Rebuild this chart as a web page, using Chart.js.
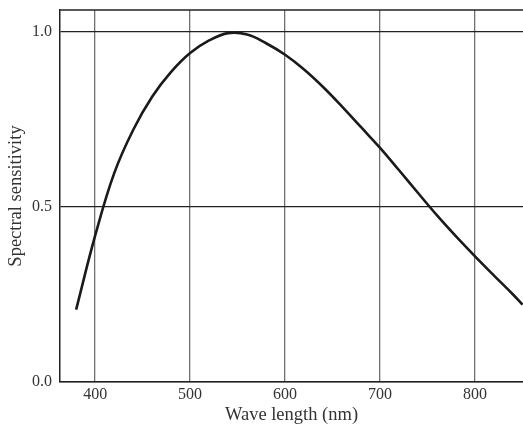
<!DOCTYPE html>
<html>
<head>
<meta charset="utf-8">
<script src="https://cdn.jsdelivr.net/npm/chart.js@4/dist/chart.umd.min.js"></script>
<style>
  html, body { margin: 0; padding: 0; background: #fff; }
  #wrap { width: 523px; height: 426px; }
</style>
</head>
<body>
<div id="wrap"><canvas id="chart"></canvas></div>
<script>
// Spectral sensitivity curve
const wavelengths = [380, 400, 420, 440, 460, 480, 500, 520, 540, 560, 580, 600,
                     620, 640, 660, 680, 700, 720, 740, 760, 780, 800, 820, 840, 850];
const sensitivity = [0.207, 0.418, 0.596, 0.72, 0.815, 0.886, 0.94, 0.976, 0.997, 0.993, 0.968, 0.935,
                     0.893, 0.843, 0.787, 0.728, 0.669, 0.605, 0.54, 0.476, 0.416, 0.359, 0.304, 0.25, 0.221];
const xTicks = [400, 500, 600, 700, 800];
const yTicks = [0, 0.5, 1.0];

const serif = '"Liberation Serif", "DejaVu Serif", serif';

// draws the frame line along the top of the plot
const topFrame = {
  id: 'topFrame',
  afterDraw(chart) {
    const { ctx, chartArea } = chart;
    ctx.save();
    ctx.strokeStyle = '#222';
    ctx.lineWidth = 1.5;
    ctx.beginPath();
    ctx.moveTo(chartArea.left, chartArea.top);
    ctx.lineTo(chartArea.right, chartArea.top);
    ctx.stroke();
    ctx.restore();
  }
};

new Chart(document.getElementById('chart'), {
  type: 'line',
  data: {
    datasets: [{
      data: wavelengths.map((w, i) => ({ x: w, y: sensitivity[i] })),
      borderColor: '#1a1a1a',
      borderWidth: 2.6,
      pointRadius: 0,
      tension: 0.4,
      fill: false
    }]
  },
  options: {
    responsive: true,
    maintainAspectRatio: false,
    animation: false,
    layout: { padding: { top: 10, right: 0, left: 0, bottom: 0 } },
    plugins: { legend: { display: false }, tooltip: { enabled: false } },
    scales: {
      x: {
        type: 'linear',
        min: 363,
        max: 850.5,
        afterBuildTicks(scale) { scale.ticks = xTicks.map(v => ({ value: v })); },
        afterFit(scale) { scale.height = 44; scale.paddingLeft = 0; scale.paddingRight = 0; },
        grid: { color: '#707070', lineWidth: 1.3, drawTicks: false },
        border: { color: '#222', width: 1.5 },
        ticks: { color: '#333', font: { family: serif, size: 16 }, padding: 3 },
        title: {
          display: true,
          text: 'Wave length (nm)',
          color: '#333',
          font: { family: serif, size: 18.5 },
          padding: { top: 0, bottom: 0 }
        }
      },
      y: {
        min: 0,
        max: 1.063,
        afterBuildTicks(scale) { scale.ticks = yTicks.map(v => ({ value: v })); },
        afterFit(scale) { scale.width = 60; scale.paddingTop = 0; scale.paddingBottom = 0; },
        grid: { color: '#222', lineWidth: 1.2, drawTicks: false },
        border: { color: '#222', width: 1.5 },
        ticks: {
          color: '#333',
          font: { family: serif, size: 16 },
          padding: 8,
          callback: v => v.toFixed(1)
        },
        title: {
          display: true,
          text: 'Spectral sensitivity',
          color: '#333',
          font: { family: serif, size: 18.5 },
          padding: { top: 5, bottom: 0 }
        }
      }
    }
  },
  plugins: [topFrame]
});
</script>
</body>
</html>
